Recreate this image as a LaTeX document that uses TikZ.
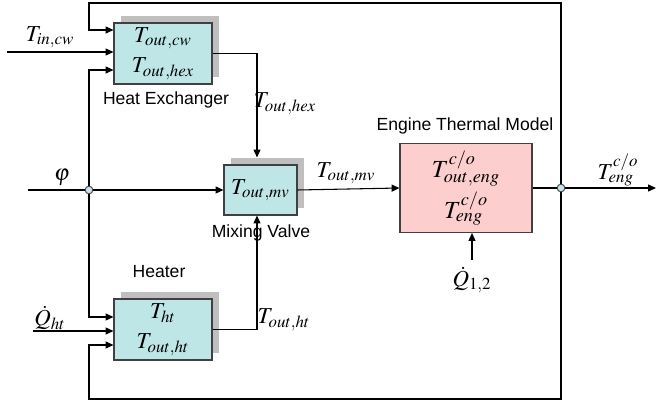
\documentclass[tikz,border=0pt]{standalone}
\usepackage{mathptmx}
\usepackage[no-math]{fontspec}
\setsansfont{Liberation Sans}
\usepackage{xcolor}
\usepackage{tikz}
\usetikzlibrary{arrows.meta, positioning, calc, shadows}
\definecolor{boxcyan}{RGB}{190,230,230}
\definecolor{boxpink}{RGB}{252,206,206}
\definecolor{juncblue}{RGB}{200,228,236}

\begin{document}
\begin{tikzpicture}[x=0.02cm, y=-0.02cm,
    line width=0.6pt,
    blk/.style={draw=black!75, fill=boxcyan, align=center, inner sep=0pt,
      font=\fontsize{13}{16}\selectfont,
      general shadow={fill=black!25, shadow xshift=0.14cm, shadow yshift=0.14cm}},
    engblk/.style={draw=black!75, fill=boxpink, align=center, inner sep=0pt,
      font=\fontsize{14}{20}\selectfont},
    title/.style={font=\sffamily\fontsize{10}{12}\selectfont},
    lbl/.style={font=\fontsize{13}{16}\selectfont, inner sep=1pt},
    arr/.style={-{Triangle[length=4.5pt, width=4pt]}},
    junc/.style={circle, draw=black!70, fill=juncblue, inner sep=0pt,
      minimum size=0.15cm, line width=0.5pt}]
  \useasboundingbox (0,0) rectangle (656,405);

  % blocks
  \node[blk, minimum width=1.96cm, minimum height=1.22cm] (hex) at (163,53.5)
    {$T_{out,cw}$\\[1pt]$T_{out,hex}$};
  \node[blk, minimum width=1.96cm, minimum height=1.22cm] (heater) at (163,329.5)
    {$T_{ht}$\\[1pt]$T_{out,ht}$};
  \node[blk, minimum width=1.46cm, minimum height=1.0cm] (mv) at (260.5,190)
    {$T_{out,mv}$};
  \node[engblk, minimum width=2.64cm, minimum height=1.78cm] (eng) at (466,188)
    {$T^{c/o}_{out,eng}$\\[2pt]$T^{c/o}_{eng}$};

  % block titles
  \node[title] (hextitle) at (166,100) {Heat Exchanger};
  \node[title] (mvtitle) at (261,233) {Mixing Valve};
  \node[title] (httitle) at (159,272) {Heater};
  \node[title] (engtitle) at (465,126) {Engine Thermal Model};

  % signal labels
  \node[lbl] (tincw) at (50,37) {$T_{in,cw}$};
  \node[lbl] (phi) at (62,177) {$\varphi$};
  \node[lbl] (qht) at (50,318) {$\dot{Q}_{ht}$};
  \node[lbl] (touthex) at (285,104) {$T_{out,hex}$};
  \node[lbl] (toutht) at (284,320) {$T_{out,ht}$};
  \node[lbl] (toutmv) at (346,173) {$T_{out,mv}$};
  \node[lbl] (tengout) at (618,170) {$T^{c/o}_{eng}$};
  \node[lbl] (q12) at (472,280) {$\dot{Q}_{1,2}$};

  % junctions and loose ends
  \node[junc] (jL) at (89,190) {};
  \node[junc] (jR) at (561,188) {};
  \coordinate (tinstart) at (7,52);
  \coordinate (phistart) at (28,190);
  \coordinate (qhtstart) at (33,331);
  \coordinate (q12start) at (472,260);
  \coordinate (tengend) at (656,188);
  \coordinate (tl) at (89,3);
  \coordinate (bl) at (89,399);

  % connectors
  \begin{scope}[on background layer/.try]
    \draw[arr] (tinstart) -- (tinstart -| hex.west);
    \draw (phistart) -- (jL);
    \draw[arr] (jL) -- (mv.west);
    \draw[arr] (jL) |- ($(hex.west)+(0,16.5)$);
    \draw[arr] (jL) |- ($(heater.west)+(0,-12.5)$);
    \draw[arr] (qhtstart) -- (qhtstart -| heater.west);
    \draw[arr] (hex.east) -| ($(mv.north)+(-3.5,-7)$);
    \draw[arr] (heater.east) -| ($(mv.south)+(-3.5,0)$);
    \draw[arr] (mv.east) -- (eng.west);
    \draw[arr] (q12start) -- (q12start |- eng.south);
    \draw (eng.east) -- (jR);
    \draw[arr] (jR) -- (tengend);
    \draw[arr] (jR) |- (tl) |- ($(hex.west)+(0,-23.5)$);
    \draw[arr] (jR) |- (bl) |- ($(heater.west)+(0,15.5)$);
  \end{scope}
  \node[junc] at (jL) {};
  \node[junc] at (jR) {};
\end{tikzpicture}
\end{document}
